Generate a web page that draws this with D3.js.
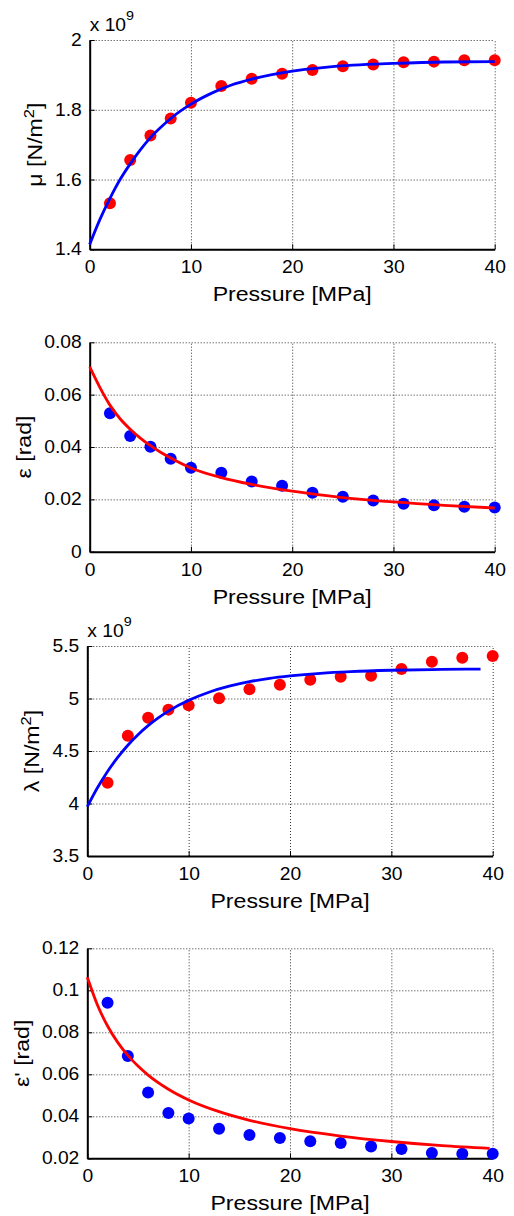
<!DOCTYPE html>
<html>
<head>
<meta charset="utf-8">
<script src="https://cdn.jsdelivr.net/npm/d3@7"></script>
<style>
  html, body { margin: 0; padding: 0; background: #fff; }
  svg { display: block; }
  text { font-family: "Liberation Sans", Arial, Helvetica, sans-serif; fill: #000; }
</style>
</head>
<body>
<svg id="chart" width="514" height="1216"></svg>
<script>
// ---------------- data ----------------
const pressure = [2, 4, 6, 8, 10, 13, 16, 19, 22, 25, 28, 31, 34, 37, 40];

// panel 1: mu (x 1e9 N/m^2), measured (red dots) and fit (blue line)
const muMeasured = [1.532, 1.656, 1.726, 1.775, 1.820, 1.868, 1.889, 1.903, 1.914, 1.925, 1.930, 1.936, 1.938, 1.942, 1.942];
const muFitP = [0, 1, 2, 3, 4, 5, 6, 7, 8, 10, 12, 14, 16, 18, 20, 23, 26, 30, 35, 40];
const muFit  = [1.414, 1.485, 1.546, 1.600, 1.645, 1.685, 1.720, 1.749, 1.775, 1.816, 1.847, 1.871, 1.888, 1.901, 1.911, 1.921, 1.928, 1.933, 1.937, 1.938];

// panel 2: epsilon (rad), measured (blue dots) and fit (red line)
const epsMeasured = [0.0529, 0.0442, 0.0401, 0.0355, 0.0321, 0.0302, 0.0268, 0.0252, 0.0225, 0.0210, 0.0196, 0.0183, 0.0177, 0.0172, 0.0169];
const epsFitP = [0, 1, 2, 3, 4, 5, 6, 7, 8, 10, 13, 16, 20, 25, 30, 35, 40];
const epsFit  = [0.0706, 0.0628, 0.0560, 0.0508, 0.0468, 0.0434, 0.0405, 0.0380, 0.0358, 0.0320, 0.0283, 0.0257, 0.0231, 0.0207, 0.0190, 0.0177, 0.0167];

// panel 3: lambda (x 1e9 N/m^2), measured (red dots) and fit (blue line)
const lambdaMeasured = [4.198, 4.646, 4.817, 4.894, 4.935, 5.002, 5.087, 5.132, 5.179, 5.208, 5.217, 5.281, 5.351, 5.389, 5.405];
const lambdaFitP = [0, 1, 2, 3, 4, 5, 6, 7, 8, 10, 12, 14, 16, 18, 20, 23, 26, 30, 35, 38.8];
const lambdaFit  = [3.970, 4.150, 4.305, 4.439, 4.555, 4.655, 4.741, 4.815, 4.880, 4.983, 5.060, 5.117, 5.160, 5.192, 5.215, 5.240, 5.256, 5.269, 5.277, 5.280];

// panel 4: epsilon' (rad), measured (blue dots) and fit (red line)
const epsPMeasured = [0.0941, 0.0687, 0.0513, 0.0416, 0.0390, 0.0341, 0.0311, 0.0297, 0.0281, 0.0273, 0.0256, 0.0244, 0.0225, 0.0222, 0.0222];
const epsPFitP = [0, 1, 2, 3, 4, 5, 6, 8, 10, 13, 16, 20, 25, 30, 35, 39.7];
const epsPFit  = [0.1062, 0.0930, 0.0830, 0.0752, 0.0690, 0.0639, 0.0596, 0.0529, 0.0478, 0.0422, 0.0381, 0.0341, 0.0306, 0.0280, 0.0260, 0.0247];

// ticks
const xTicks = [0, 10, 20, 30, 40];
const xTickLabels = ["0", "10", "20", "30", "40"];
const muTicks = [1.4, 1.6, 1.8, 2.0];
const muTickLabels = ["1.4", "1.6", "1.8", "2"];
const epsTicks = [0, 0.02, 0.04, 0.06, 0.08];
const epsTickLabels = ["0", "0.02", "0.04", "0.06", "0.08"];
const lambdaTicks = [3.5, 4, 4.5, 5, 5.5];
const lambdaTickLabels = ["3.5", "4", "4.5", "5", "5.5"];
const epsPTicks = [0.02, 0.04, 0.06, 0.08, 0.10, 0.12];
const epsPTickLabels = ["0.02", "0.04", "0.06", "0.08", "0.1", "0.12"];

// ---------------- drawing ----------------
const RED = "#ff0000", BLUE = "#0000ff";
const SX = 1.1; // horizontal glyph widening of the reference font
const svg = d3.select("#chart");

const panels = [
  { box: [89.7, 494.7, 40, 249.3], yDomain: [1.4, 2.0], yTicks: muTicks, yLabels: muTickLabels,
    pts: muMeasured, ptColor: RED, fitP: muFitP, fit: muFit, fitColor: BLUE,
    label: ["μ [N/m", "2", "]"], labelX: 42, exp: true },
  { box: [89.7, 494.7, 342.3, 551.7], yDomain: [0, 0.08], yTicks: epsTicks, yLabels: epsTickLabels,
    pts: epsMeasured, ptColor: BLUE, fitP: epsFitP, fit: epsFit, fitColor: RED,
    label: ["ε [rad]"], labelX: 30.5, exp: false },
  { box: [87.3, 492.7, 646, 856], yDomain: [3.5, 5.5], yTicks: lambdaTicks, yLabels: lambdaTickLabels,
    pts: lambdaMeasured, ptColor: RED, fitP: lambdaFitP, fit: lambdaFit, fitColor: BLUE,
    label: ["λ [N/m", "2", "]"], labelX: 38.5, exp: true },
  { box: [87.3, 492.7, 948.3, 1158.3], yDomain: [0.02, 0.12], yTicks: epsPTicks, yLabels: epsPTickLabels,
    pts: epsPMeasured, ptColor: BLUE, fitP: epsPFitP, fit: epsPFit, fitColor: RED,
    label: ["ε' [rad]"], labelX: 28.5, exp: false }
];

panels.forEach(p => {
  const [x0, x1, y0, y1] = p.box;
  const x = d3.scaleLinear().domain([0, 40]).range([x0, x1]);
  const y = d3.scaleLinear().domain(p.yDomain).range([y1, y0]);
  const g = svg.append("g");

  // grid
  g.append("g").attr("transform", `translate(0,${y1})`)
    .call(d3.axisBottom(x).tickValues(xTicks).tickSize(-(y1 - y0)).tickFormat(""))
    .call(a => a.select(".domain").remove())
    .call(a => a.selectAll("line").attr("stroke", "#333").attr("stroke-width", 1).attr("stroke-dasharray", "1,2"));
  g.append("g").attr("transform", `translate(${x0},0)`)
    .call(d3.axisLeft(y).tickValues(p.yTicks).tickSize(-(x1 - x0)).tickFormat(""))
    .call(a => a.select(".domain").remove())
    .call(a => a.selectAll("line").attr("stroke", "#333").attr("stroke-width", 1).attr("stroke-dasharray", "1,2"));

  // axes
  const xa = g.append("g").attr("transform", `translate(0,${y1})`)
    .call(d3.axisBottom(x).tickValues(xTicks).tickFormat((d, i) => xTickLabels[i])
      .tickSizeInner(-5).tickSizeOuter(0).tickPadding(11.5));
  const ya = g.append("g").attr("transform", `translate(${x0},0)`)
    .call(d3.axisLeft(y).tickValues(p.yTicks).tickFormat((d, i) => p.yLabels[i])
      .tickSizeInner(-5).tickSizeOuter(0).tickPadding(8));
  [xa, ya].forEach(a => {
    a.select(".domain").attr("stroke", "#000").attr("stroke-width", 2);
    a.selectAll(".tick line").attr("stroke", "#000").attr("stroke-width", 1);
    a.selectAll("text").attr("font-size", 17.5).attr("font-family", null).attr("fill", "#000");
  });
  xa.selectAll("text").attr("transform", `scale(${SX},1)`);
  ya.selectAll("text").attr("x", -8 / SX).attr("transform", `scale(${SX},1)`);

  // markers
  g.append("g").selectAll("circle").data(p.pts).join("circle")
    .attr("cx", (d, i) => x(pressure[i])).attr("cy", d => y(d))
    .attr("r", 6).attr("fill", p.ptColor);

  // fit line
  const line = d3.line().x((d, i) => x(p.fitP[i])).y(d => y(d)).curve(d3.curveMonotoneX);
  g.append("path").datum(p.fit).attr("d", line)
    .attr("fill", "none").attr("stroke", p.fitColor).attr("stroke-width", 2.8);

  // x label
  g.append("text").attr("transform", `translate(${(x0 + x1) / 2},${y1 + 52}) scale(${SX},1)`)
    .attr("text-anchor", "middle").attr("font-size", 21).text("Pressure [MPa]");

  // y label
  const yl = g.append("text")
    .attr("transform", `translate(${p.labelX},${(y0 + y1) / 2}) rotate(-90) scale(${SX},1)`)
    .attr("text-anchor", "middle").attr("font-size", 21);
  yl.append("tspan").text(p.label[0]);
  if (p.label.length > 1) {
    yl.append("tspan").attr("dy", -8).attr("font-size", 15).text(p.label[1]);
    yl.append("tspan").attr("dy", 8).text(p.label[2]);
  }

  // exponent
  if (p.exp) {
    const e = g.append("text").attr("transform", `translate(${x0},${y0 - 9.3}) scale(${SX},1)`)
      .attr("font-size", 17.5);
    e.append("tspan").text("x 10");
    e.append("tspan").attr("dy", -11).attr("font-size", 13).text("9");
  }
});
</script>
</body>
</html>
